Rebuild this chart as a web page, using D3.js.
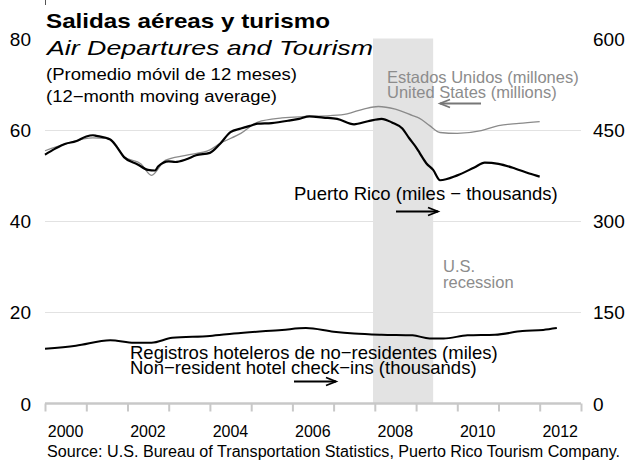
<!DOCTYPE html>
<html>
<head>
<meta charset="utf-8">
<script src="https://cdn.jsdelivr.net/npm/d3@7"></script>
<style>
  body { margin: 0; background: #fff; }
  svg { display: block; font-family: 'Liberation Sans', Arial, sans-serif; }
</style>
</head>
<body>
<div id="chart"></div>
<script>
// US air departures, millions (left axis), 12-month moving average
var usDates = ['2000-01', '2000-07', '2001-03', '2001-07', '2001-09', '2001-12', '2002-05', '2002-08',
  '2002-12', '2003-06', '2004-01', '2004-04', '2004-10', '2005-03', '2005-10', '2006-05', '2006-12',
  '2007-05', '2007-10', '2008-02', '2008-07', '2008-12', '2009-02', '2009-05', '2009-08', '2010-01',
  '2010-08', '2011-01', '2011-07', '2012-01']
var usValues = [55.4, 56.9, 58.2, 58.1, 57.3, 54.1, 52.5, 50.0,
  53.3, 54.4, 55.6, 57.0, 59.2, 61.7, 62.6, 62.9, 63.1,
  63.5, 64.6, 65.1, 64.5, 63.1, 62.5, 60.9, 59.4, 59.2,
  59.8, 60.9, 61.4, 61.8]

// Puerto Rico air departures, thousands (right axis)
var prDates = ['2000-01', '2000-04', '2000-07', '2000-10', '2001-01', '2001-03', '2001-04', '2001-08',
  '2001-10', '2001-12', '2002-04', '2002-07', '2002-09', '2002-10', '2003-01', '2003-03', '2003-06',
  '2003-09', '2004-01', '2004-04', '2004-07', '2004-10', '2005-01', '2005-03', '2005-07', '2005-12',
  '2006-03', '2006-06', '2006-10', '2007-02', '2007-07', '2007-11', '2008-03', '2008-06', '2008-09',
  '2008-11', '2009-01', '2009-02', '2009-04', '2009-06', '2009-08', '2010-01', '2010-06', '2010-09',
  '2011-01', '2011-06', '2011-10', '2012-01']
var prValues = [409, 419, 427, 431, 439, 441, 440, 434,
  421, 405, 393, 384, 383, 390, 398, 397, 401,
  408, 412, 427, 446, 452, 457, 460, 461, 465,
  468, 472, 470, 468, 459, 464, 468, 462, 452,
  436, 421, 412, 395, 384, 367, 375, 388, 396,
  394, 386, 378, 373]

// Non-resident hotel check-ins, thousands (right axis)
var hotelDates = ['2000-01', '2000-10', '2001-08', '2002-03', '2002-08', '2003-02', '2004-01', '2004-08',
  '2005-10', '2006-05', '2007-01', '2007-07', '2008-03', '2008-12', '2009-05', '2009-09', '2010-04',
  '2010-12', '2011-08', '2012-02', '2012-06']
var hotelValues = [90, 95, 104, 100, 100, 108, 111, 115,
  121, 124, 118, 115, 113, 112, 107, 107, 112,
  113, 119, 121, 124]

var recession = ['2007-12-16', '2009-06-01']
var leftTicks = [0, 20, 40, 60, 80]
var rightTicks = [0, 150, 300, 450, 600]
var yearLabels = [2000, 2002, 2004, 2006, 2008, 2010, 2012]

var width = 632
var height = 461
var parseMonth = d3.timeParse('%Y-%m')
var parseDay = d3.timeParse('%Y-%m-%d')

var svg = d3.select('#chart').append('svg')
  .attr('width', width)
  .attr('height', height)

var x = d3.scaleTime()
  .domain([new Date(2000, 0, 1), new Date(2013, 0, 1)])
  .range([45, 581])

var yLeft = d3.scaleLinear().domain([0, 80]).range([403.5, 38.5])
var yRight = d3.scaleLinear().domain([0, 600]).range([403.5, 38.5])

// little stub at the very top
svg.append('line')
  .attr('x1', 45.5).attr('x2', 45.5)
  .attr('y1', 0).attr('y2', 5)
  .attr('stroke', '#555')

// gridlines
svg.selectAll('.grid')
  .data(leftTicks.slice(1, 4))
  .enter().append('line')
  .attr('class', 'grid')
  .attr('x1', 45).attr('x2', 581)
  .attr('y1', function (d) { return Math.round(yLeft(d)) + 0.5 })
  .attr('y2', function (d) { return Math.round(yLeft(d)) + 0.5 })
  .attr('stroke', '#e2e2e2')
  .attr('stroke-width', 1)

// recession shading
svg.append('rect')
  .attr('x', x(parseDay(recession[0])))
  .attr('y', yLeft(80))
  .attr('width', x(parseDay(recession[1])) - x(parseDay(recession[0])))
  .attr('height', yLeft(0) - yLeft(80))
  .attr('fill', '#e3e3e3')

// x axis: ticks at year boundaries, labels in the middle of even years
var xAxis = d3.axisBottom(x)
  .ticks(d3.timeYear.every(1))
  .tickSize(8)
  .tickFormat('')
var gx = svg.append('g')
  .attr('transform', 'translate(0,' + yLeft(0) + ')')
  .call(xAxis)
gx.select('.domain').attr('stroke', '#c8c8c8').attr('stroke-width', 2.5)
  .attr('d', 'M45,0H581')
gx.selectAll('.tick line').attr('stroke', '#c8c8c8').attr('stroke-width', 2)

svg.selectAll('.year')
  .data(yearLabels)
  .enter().append('text')
  .attr('class', 'year')
  .attr('x', function (d) { return x(new Date(d, 6, 1)) })
  .attr('y', 437)
  .attr('text-anchor', 'middle')
  .attr('font-size', 16)
  .text(function (d) { return d })

// left and right value labels
svg.selectAll('.lt')
  .data(leftTicks)
  .enter().append('text')
  .attr('class', 'lt')
  .attr('x', 31)
  .attr('y', function (d) { return yLeft(d) + 7 })
  .attr('text-anchor', 'end')
  .attr('font-size', 19)
  .text(function (d) { return d })

svg.selectAll('.rt')
  .data(rightTicks)
  .enter().append('text')
  .attr('class', 'rt')
  .attr('x', 593)
  .attr('y', function (d) { return yRight(d) + 7 })
  .attr('font-size', 19)
  .text(function (d) { return d })

// series
function series (dates, values) {
  return dates.map(function (d, i) { return { date: parseMonth(d), value: values[i] } })
}

var lineLeft = d3.line()
  .x(function (d) { return x(d.date) })
  .y(function (d) { return yLeft(d.value) })
  .curve(d3.curveMonotoneX)
var lineRight = d3.line()
  .x(function (d) { return x(d.date) })
  .y(function (d) { return yRight(d.value) })
  .curve(d3.curveMonotoneX)

svg.append('path')
  .datum(series(usDates, usValues))
  .attr('d', lineLeft)
  .attr('fill', 'none')
  .attr('stroke', '#8a8a8a')
  .attr('stroke-width', 1.3)

svg.append('path')
  .datum(series(prDates, prValues))
  .attr('d', lineRight)
  .attr('fill', 'none')
  .attr('stroke', '#000')
  .attr('stroke-width', 2.2)
  .attr('stroke-linejoin', 'round')

svg.append('path')
  .datum(series(hotelDates, hotelValues))
  .attr('d', lineRight)
  .attr('fill', 'none')
  .attr('stroke', '#000')
  .attr('stroke-width', 2)
  .attr('stroke-linejoin', 'round')

// titles
svg.append('text').attr('x', 46).attr('y', 28)
  .attr('font-size', 21).attr('font-weight', 'bold')
  .attr('textLength', 284).attr('lengthAdjust', 'spacingAndGlyphs')
  .text('Salidas aéreas y turismo')
svg.append('text').attr('x', 47).attr('y', 55)
  .attr('font-size', 21).attr('font-style', 'italic')
  .attr('textLength', 326).attr('lengthAdjust', 'spacingAndGlyphs')
  .text('Air Departures and Tourism')
svg.append('text').attr('x', 46).attr('y', 80)
  .attr('font-size', 16)
  .attr('textLength', 251).attr('lengthAdjust', 'spacingAndGlyphs')
  .text('(Promedio móvil de 12 meses)')
svg.append('text').attr('x', 46).attr('y', 102)
  .attr('font-size', 16)
  .attr('textLength', 231).attr('lengthAdjust', 'spacingAndGlyphs')
  .text('(12\u2212month moving average)')

// annotations
var gray = '#8c8c8c'
svg.append('text').attr('x', 387).attr('y', 83)
  .attr('font-size', 16.5).attr('fill', gray)
  .text('Estados Unidos (millones)')
svg.append('text').attr('x', 387).attr('y', 98)
  .attr('font-size', 16.5).attr('fill', gray)
  .text('United States (millions)')

svg.append('text').attr('x', 294).attr('y', 200)
  .attr('font-size', 18.5)
  .text('Puerto Rico (miles \u2212 thousands)')

svg.append('text').attr('x', 443).attr('y', 272)
  .attr('font-size', 16.5).attr('fill', gray)
  .text('U.S.')
svg.append('text').attr('x', 443).attr('y', 288)
  .attr('font-size', 16.5).attr('fill', gray)
  .text('recession')

svg.append('text').attr('x', 130).attr('y', 359)
  .attr('font-size', 18.5)
  .text('Registros hoteleros de no\u2212residentes (miles)')
svg.append('text').attr('x', 130).attr('y', 374)
  .attr('font-size', 18.5)
  .text('Non\u2212resident hotel check\u2212ins (thousands)')

svg.append('text').attr('x', 47).attr('y', 457)
  .attr('font-size', 16)
  .attr('textLength', 573).attr('lengthAdjust', 'spacingAndGlyphs')
  .text('Source: U.S. Bureau of Transportation Statistics, Puerto Rico Tourism Company.')

// arrows
function arrow (x1, x2, y, color) {
  var dir = x2 > x1 ? 1 : -1
  svg.append('line')
    .attr('x1', x1).attr('x2', x2)
    .attr('y1', y).attr('y2', y)
    .attr('stroke', color).attr('stroke-width', 1.8)
  svg.append('path')
    .attr('d', 'M' + (x2 - dir * 10) + ',' + (y - 4) + 'L' + x2 + ',' + y + 'L' + (x2 - dir * 10) + ',' + (y + 4))
    .attr('fill', 'none')
    .attr('stroke', color).attr('stroke-width', 1.8)
}
arrow(481, 440, 103.5, '#777')
arrow(396, 438, 211.5, '#000')
arrow(294, 336, 381.5, '#000')
</script>
</body>
</html>
